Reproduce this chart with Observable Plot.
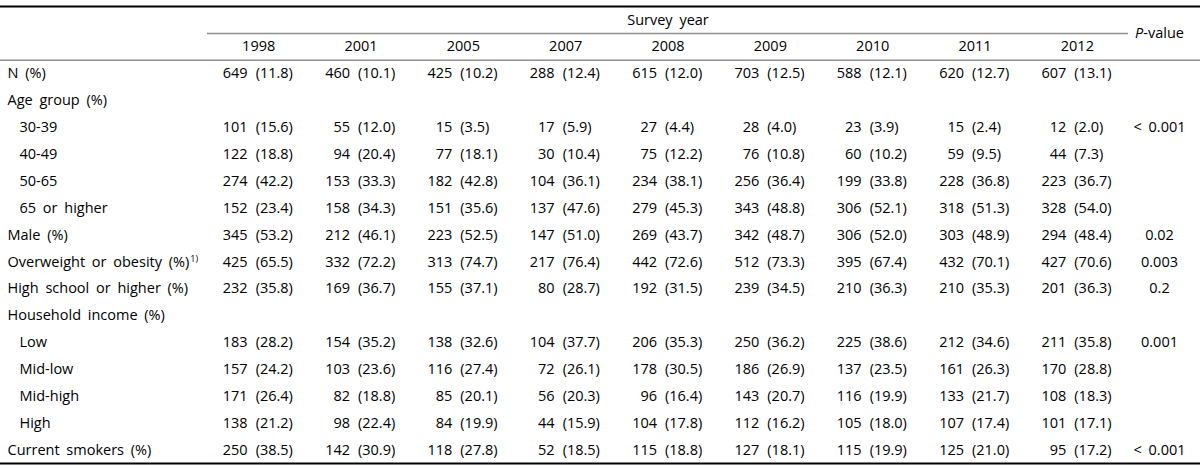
<!DOCTYPE html>
<html><head><meta charset="utf-8">
<script src="https://cdn.jsdelivr.net/npm/d3@7"></script>
<script src="https://cdn.jsdelivr.net/npm/@observablehq/plot@0.6"></script>
<style>
body{margin:0;background:#fff}
svg text{word-spacing:3px}
</style>
</head><body><div id="chart"></div>
<script>
const spanner = "Survey year";
const pHeader = "P-value";
const years = ["1998","2001","2005","2007","2008","2009","2010","2011","2012"];
const rowLabels = [
  "N (%)", "Age group (%)", "30-39", "40-49", "50-65", "65 or higher",
  "Male (%)", "Overweight or obesity (%)", "High school or higher (%)",
  "Household income (%)", "Low", "Mid-low", "Mid-high", "High", "Current smokers (%)"
];
const rowLevels = [0,0,1,1,1,1,0,0,0,0,1,1,1,1,0];
const footnotes = {"Overweight or obesity (%)": "1)"};
const counts = [
  [649,460,425,288,615,703,588,620,607],
  null,
  [101,55,15,17,27,28,23,15,12],
  [122,94,77,30,75,76,60,59,44],
  [274,153,182,104,234,256,199,228,223],
  [152,158,151,137,279,343,306,318,328],
  [345,212,223,147,269,342,306,303,294],
  [425,332,313,217,442,512,395,432,427],
  [232,169,155,80,192,239,210,210,201],
  null,
  [183,154,138,104,206,250,225,212,211],
  [157,103,116,72,178,186,137,161,170],
  [171,82,85,56,96,143,116,133,108],
  [138,98,84,44,104,112,105,107,101],
  [250,142,118,52,115,127,115,125,95]
];
const percents = [
  [11.8,10.1,10.2,12.4,12.0,12.5,12.1,12.7,13.1],
  null,
  [15.6,12.0,3.5,5.9,4.4,4.0,3.9,2.4,2.0],
  [18.8,20.4,18.1,10.4,12.2,10.8,10.2,9.5,7.3],
  [42.2,33.3,42.8,36.1,38.1,36.4,33.8,36.8,36.7],
  [23.4,34.3,35.6,47.6,45.3,48.8,52.1,51.3,54.0],
  [53.2,46.1,52.5,51.0,43.7,48.7,52.0,48.9,48.4],
  [65.5,72.2,74.7,76.4,72.6,73.3,67.4,70.1,70.6],
  [35.8,36.7,37.1,28.7,31.5,34.5,36.3,35.3,36.3],
  null,
  [28.2,35.2,32.6,37.7,35.3,36.2,38.6,34.6,35.8],
  [24.2,23.6,27.4,26.1,30.5,26.9,23.5,26.3,28.8],
  [26.4,18.8,20.1,20.3,16.4,20.7,19.9,21.7,18.3],
  [21.2,22.4,19.9,15.9,17.8,16.2,18.0,17.4,17.1],
  [38.5,30.9,27.8,18.5,18.8,18.1,19.9,21.0,17.2]
];
const pValues = ["","","< 0.001","","","","0.02","0.003","0.2","","0.001","","","","< 0.001"];

// ---- build tables for the marks ----
const headerRows = 2;
const nRows = headerRows + rowLabels.length;
const fmt = d3.format(".1f");
const cells = [];
rowLabels.forEach((label, r) => {
  if (!counts[r]) return;
  years.forEach((yr, c) => cells.push({row: r + headerRows + 0.5, col: c + 0.5, n: String(counts[r][c]), pct: "(" + fmt(percents[r][c]) + ")"}));
});
const labelRows = rowLabels.map((label, r) => ({label, level: rowLevels[r], row: r + headerRows + 0.5}));
const pRows = pValues.map((p, r) => ({p, row: r + headerRows + 0.5})).filter(d => d.p);
const yearCells = years.map((year, c) => ({year, col: c + 0.5, row: 1.5}));

const W = 1200, H = 468, mTop = 6, mBottom = 5;
const ink = "#000", grey = "#8f8f8f", fs = 14.5;

const chart = Plot.plot({
  width: W, height: H,
  marginLeft: 0, marginRight: 0, marginTop: mTop, marginBottom: mBottom,
  style: {fontFamily: "'Open Sans', sans-serif", background: "#fff", color: ink},
  x: {domain: [0, years.length], range: [207, 1128], axis: null},
  y: {domain: [0, nRows], range: [mTop, H - mBottom], axis: null},
  marks: [
    Plot.ruleY([0, nRows], {stroke: "#000", strokeWidth: 2.2}),
    Plot.ruleY([headerRows], {stroke: grey, strokeWidth: 1.5}),
    Plot.ruleY([1], {x1: 0, x2: years.length, stroke: grey, strokeWidth: 1.5}),
    Plot.text([spanner], {x: years.length / 2, y: 0.5, text: d => d, fontSize: fs, fill: ink}),
    Plot.text([pHeader], {y: 1, text: d => d, frameAnchor: "right", textAnchor: "middle", dx: -41, fontSize: fs, fill: ink}),
    Plot.text(yearCells, {x: "col", y: "row", text: "year", fontSize: fs, fill: ink}),
    Plot.text(labelRows, {filter: d => d.level === 0, y: "row", text: "label", frameAnchor: "left", textAnchor: "start", dx: 7, fontSize: fs, fill: ink}),
    Plot.text(labelRows, {filter: d => d.level === 1, y: "row", text: "label", frameAnchor: "left", textAnchor: "start", dx: 19, fontSize: fs, fill: ink}),
    Plot.text(cells, {x: "col", y: "row", text: "n", textAnchor: "end", dx: -11, fontSize: fs, fill: ink}),
    Plot.text(cells, {x: "col", y: "row", text: "pct", textAnchor: "start", dx: -3, fontSize: fs, fill: ink}),
    Plot.text(pRows, {y: "row", text: "p", frameAnchor: "right", textAnchor: "middle", dx: -41, fontSize: fs, fill: ink})
  ]
});

// italic P in header, superscript footnote markers
d3.select(chart).selectAll("text").each(function() {
  const t = d3.select(this);
  const s = this.textContent;
  if (s === pHeader) {
    t.text(null);
    t.append("tspan").attr("font-style", "italic").text(s.slice(0, 1));
    t.append("tspan").text(s.slice(1));
  } else if (footnotes[s]) {
    t.append("tspan").attr("font-size", 9).attr("dy", "-0.55em").attr("dx", 1).text(footnotes[s]);
  }
});

document.getElementById("chart").appendChild(chart);
</script>
</body></html>
